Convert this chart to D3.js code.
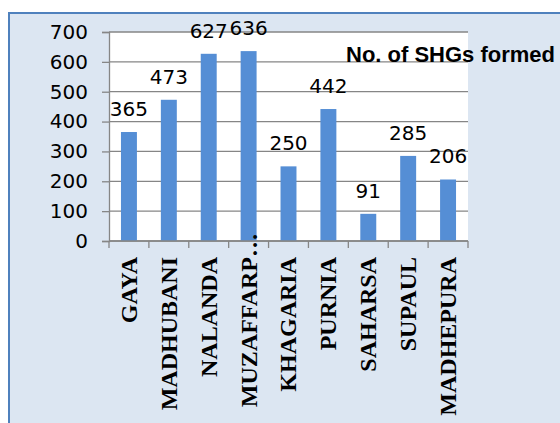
<!DOCTYPE html>
<html>
<head>
<meta charset="utf-8">
<script src="https://cdn.jsdelivr.net/npm/d3@7"></script>
<style>
  body { margin: 0; background: #fff; }
  svg { display: block; }
</style>
</head>
<body>
<svg width="560" height="423"></svg>
<script>
const width = 560;
const height = 423;

// districts and number of SHGs formed
const districts = ["GAYA", "MADHUBANI", "NALANDA", "MUZAFFARP\u2026", "KHAGARIA", "PURNIA", "SAHARSA", "SUPAUL", "MADHEPURA"];
const shgCounts = [365, 473, 627, 636, 250, 442, 91, 285, 206];
const yTicks = [0, 100, 200, 300, 400, 500, 600, 700];
const seriesName = "No. of SHGs formed";

const plot = { left: 109, right: 468, top: 32, bottom: 241 };

const numFont = "'DejaVu Sans', sans-serif";

const svg = d3.select("svg");

// outer chart frame
svg.append("rect")
    .attr("x", 9).attr("y", 13)
    .attr("width", width + 20).attr("height", height + 20)
    .attr("fill", "#dce6f2")
    .attr("stroke", "#4f81bd")
    .attr("stroke-width", 2);

const x = d3.scaleBand()
    .domain(districts)
    .range([plot.left, plot.right])
    .paddingInner(0.6)
    .paddingOuter(0.3);

const y = d3.scaleLinear()
    .domain([0, 700])
    .range([plot.bottom, plot.top]);

// plot area
svg.append("rect")
    .attr("x", plot.left).attr("y", plot.top)
    .attr("width", plot.right - plot.left)
    .attr("height", plot.bottom - plot.top)
    .attr("fill", "#fff");

// gridlines
svg.append("g")
    .selectAll("line")
    .data(yTicks)
    .enter().append("line")
      .attr("x1", plot.left).attr("x2", plot.right)
      .attr("y1", d => y(d)).attr("y2", d => y(d))
      .attr("stroke", "#868686")
      .attr("stroke-width", 1.3);

// y axis
const yAxis = svg.append("g")
    .attr("transform", `translate(${plot.left},0)`)
    .call(d3.axisLeft(y).tickValues(yTicks).tickSize(7).tickPadding(14));
yAxis.select(".domain").attr("stroke", "#868686").attr("stroke-width", 1.3);
yAxis.selectAll(".tick line").attr("stroke", "#868686").attr("stroke-width", 1.3);
yAxis.selectAll("text")
    .attr("font-family", numFont)
    .attr("font-size", 20)
    .attr("fill", "#000");

// bars
svg.append("g")
    .selectAll("rect")
    .data(shgCounts)
    .enter().append("rect")
      .attr("x", (d, i) => x(districts[i]))
      .attr("y", d => y(d))
      .attr("width", x.bandwidth())
      .attr("height", d => y(0) - y(d))
      .attr("fill", "#558ed5");

// x axis line and category boundary ticks
const step = x.step();
const boundaries = districts.map(d => x(d) - step * x.paddingInner() / 2)
    .concat([plot.right]);
svg.append("line")
    .attr("x1", plot.left).attr("x2", plot.right)
    .attr("y1", y(0)).attr("y2", y(0))
    .attr("stroke", "#868686")
    .attr("stroke-width", 1.5);
svg.append("g")
    .selectAll("line")
    .data(boundaries)
    .enter().append("line")
      .attr("x1", d => d).attr("x2", d => d)
      .attr("y1", y(0)).attr("y2", y(0) + 7)
      .attr("stroke", "#868686")
      .attr("stroke-width", 1.3);

// data labels
svg.append("g")
    .selectAll("text")
    .data(shgCounts)
    .enter().append("text")
      .text(d => d)
      .attr("x", (d, i) => x(districts[i]) + x.bandwidth() / 2)
      .attr("y", d => y(d) - 16)
      .attr("text-anchor", "middle")
      .attr("font-family", numFont)
      .attr("font-size", 20)
      .attr("fill", "#000");

// category labels, rotated; the truncation ellipsis runs past the top
const labelTop = y(0) + 16;
const catLabels = svg.append("g")
    .selectAll("g")
    .data(districts)
    .enter().append("g")
      .attr("transform", d => `translate(${x(d) + x.bandwidth() / 2},${labelTop}) rotate(-90)`);
catLabels.append("text")
    .text(d => d.replace("\u2026", ""))
    .attr("text-anchor", "end")
    .attr("dy", "0.33em")
    .attr("font-family", "'Liberation Serif', 'Times New Roman', serif")
    .attr("font-weight", "bold")
    .attr("font-size", 24)
    .attr("fill", "#000");
catLabels.filter(d => d.endsWith("\u2026"))
  .append("text")
    .text("\u2026")
    .attr("text-anchor", "start")
    .attr("dy", "0.33em")
    .attr("font-family", "'Liberation Serif', 'Times New Roman', serif")
    .attr("font-weight", "bold")
    .attr("font-size", 24)
    .attr("fill", "#000");

// legend / series title
svg.append("text")
    .text(seriesName)
    .attr("x", 346)
    .attr("y", 62)
    .attr("font-family", "'Liberation Sans', Arial, sans-serif")
    .attr("font-weight", "bold")
    .attr("font-size", 22)
    .attr("fill", "#000");
</script>
</body>
</html>
